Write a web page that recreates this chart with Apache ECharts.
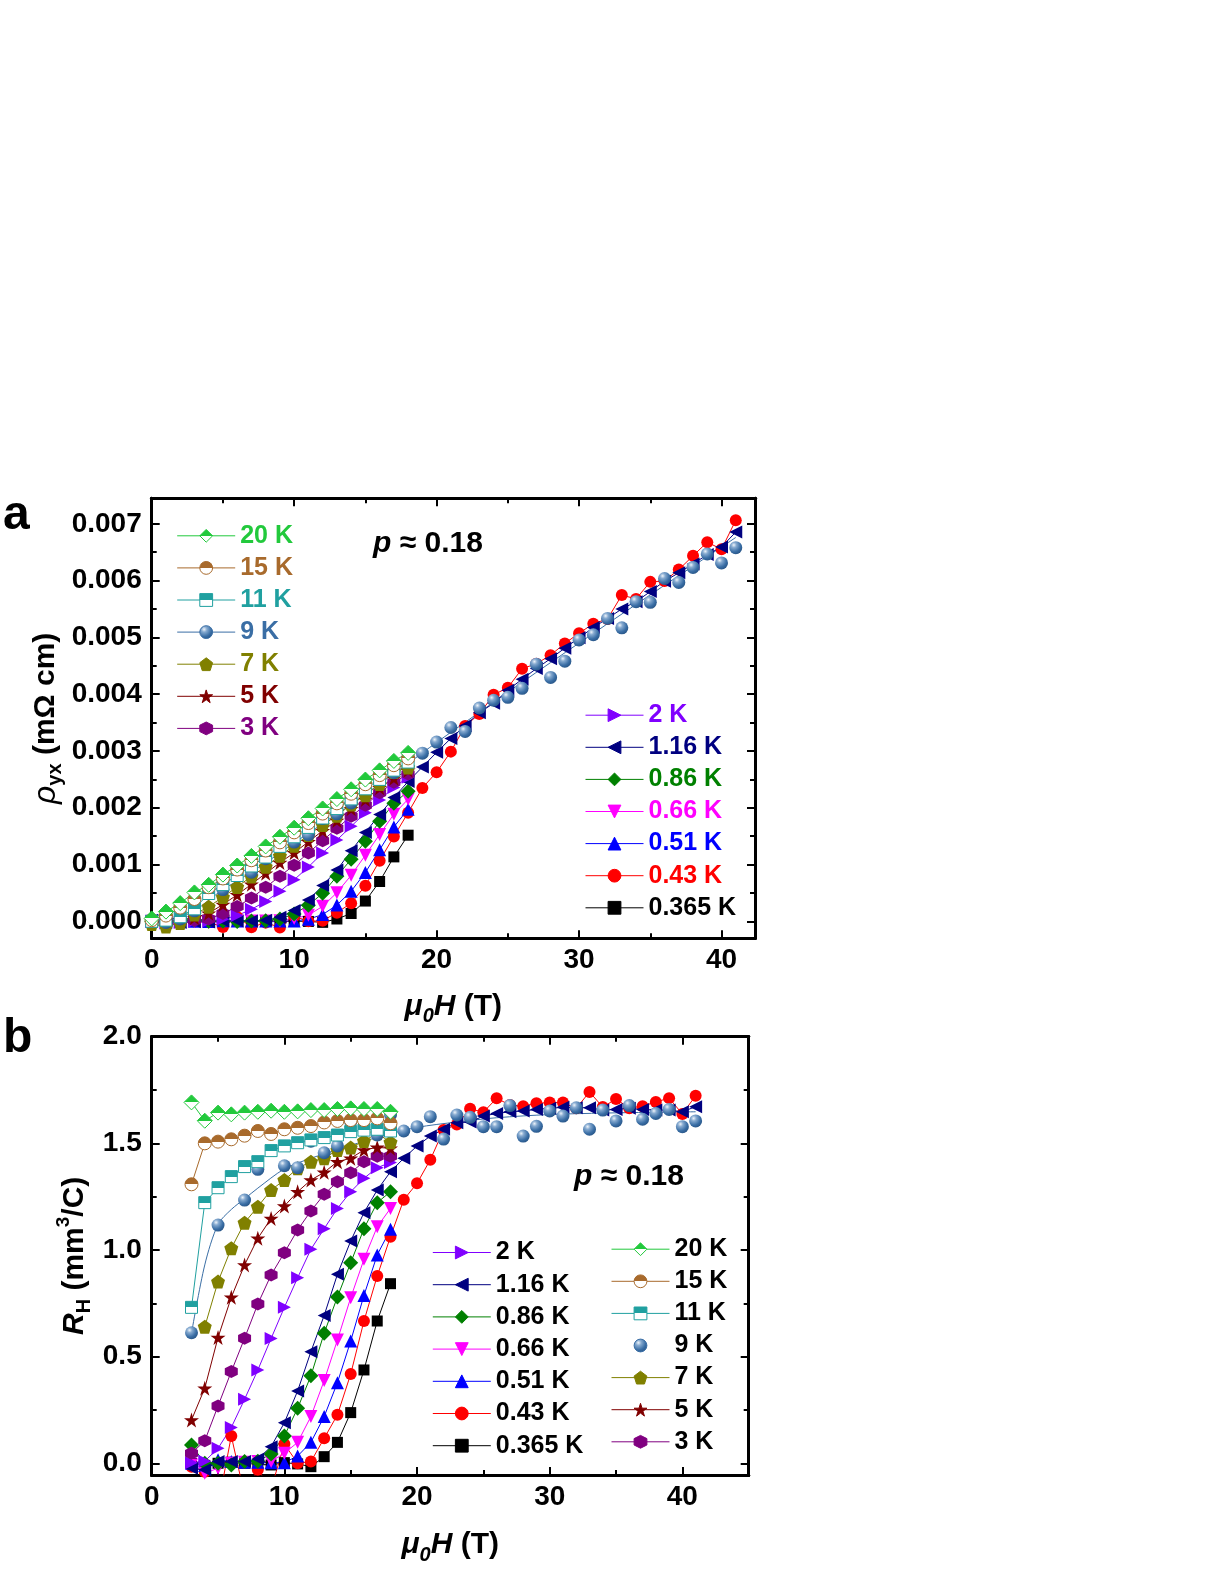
<!DOCTYPE html>
<html><head><meta charset="utf-8">
<script src="https://cdn.jsdelivr.net/npm/echarts@6/dist/echarts.min.js"></script>
<style>html,body{margin:0;padding:0;background:#fff}#c{width:1221px;height:1579px}</style>
</head><body><div id="c"></div>
<script>
// ---------- DATA ----------
const B_a = [0,1,2,3,4,5,6,7,8,9,10,11,12,13,14,15,16,17,18];
const B_a_long = [0,1,2,3,4,5,6,7,8,9,10,11,12,13,14,15,16,17,18,19,20,21,22,23,24,25,26,27,28,29,30,31,32,33,34,35,36,37,38,39,40,41];
const B_b = [3,4,5,6,7,8,9,10,11,12,13,14,15,16,17,18];
const B_b_long = [3,4,5,6,7,8,9,10,11,12,13,14,15,16,17,18,19,20,21,22,23,24,25,26,27,28,29,30,31,32,33,34,35,36,37,38,39,40,41];

// panel a: rho_yx (mOhm cm)
const rhoA_20K = [0.00005,0.00017,0.00032,0.000508,0.000642,0.000822,0.000982,0.001151,0.001318,0.001488,0.001648,0.001815,0.001987,0.002153,0.002325,0.002496,0.002658,0.002824,0.002966];
const rhoA_15K = [0.00002,0.0001,0.00024,0.000392,0.0006,0.000754,0.000911,0.001075,0.001246,0.00139,0.001566,0.00173,0.001897,0.002077,0.002247,0.002414,0.002574,0.002749,0.002869];
const rhoA_11K = [0,0.00002,0.00008,0.000219,0.000489,0.000646,0.000806,0.000974,0.001131,0.001319,0.001488,0.001653,0.001819,0.001985,0.002155,0.002333,0.002499,0.002662,0.002804];
const rhoA_9K = [0.00001,-0.00002,0.00004,0.000184,null,0.000559,null,0.000864,0.001102,null,0.001395,0.001525,0.001812,0.001893,0.002083,0.0024,null,0.002616,0.002939,0.00296,0.003156,0.003413,0.003344,0.003756,0.003893,0.003945,0.004103,0.004528,0.004295,0.004582,0.004956,0.005047,0.005334,0.005168,0.00563,0.005618,0.006037,0.005968,0.006232,0.00647,0.006312,0.006581];
const rhoA_7K = [-0.00005,-0.00009,-0.00003,0.00012,0.000256,0.000426,0.000605,0.00079,0.000962,0.001153,0.001328,0.001521,0.001697,0.001859,0.002057,0.00222,0.002418,0.00263,0.002709];
const rhoA_5K = [0,-0.00002,0.00002,0.000061,0.000141,0.000295,0.000467,0.000651,0.000844,0.001033,0.001206,0.0014,0.001594,0.001773,0.00198,0.002145,0.00235,0.002518,0.002659];
const rhoA_3K = [0,-0.00002,0,0.000014,0.000042,0.000135,0.000258,0.00041,0.000598,0.000795,0.000988,0.001203,0.00142,0.001639,0.001848,0.002044,0.002262,0.002448,0.002592];
const rhoA_2K = [0,-0.00003,-0.00002,0.000001,0.000004,0.000035,0.000101,0.00021,0.00035,0.000527,0.000731,0.000957,0.001204,0.00143,0.001673,0.00191,0.002138,0.002356,0.002538];
const rhoA_116K = [0.00002,0,-0.00002,-0.000007,-0.000012,0.000004,0.000005,0.000006,0.000016,0.00007,0.00019,0.000373,0.000628,0.000901,0.00124,0.001563,0.00188,0.002178,0.002461,0.002717,0.002975,0.003221,0.003445,0.003673,0.00384,0.00407,0.004264,0.00445,0.004626,0.004811,0.004992,0.005174,0.005334,0.005501,0.00563,0.005807,0.00599,0.006138,0.006293,0.006458,0.006592,0.006855];
const rhoA_086K = [0,-0.00002,0,0.000026,0,0,-0.000005,0.000006,0.000008,0.00004,0.000128,0.000284,0.000492,0.000793,0.001092,0.00141,0.00176,0.002077,0.002291];
const rhoA_066K = [0,-0.00005,-0.00003,-0.000002,-0.000019,-0.000012,0,0.000004,0.000006,0.000007,0.000047,0.000108,0.000263,0.000504,0.000809,0.001164,0.00153,0.001885,0.002151];
const rhoA_051K = [0,-0.00002,0,0,-0.000004,0.000008,0.000005,0.000004,0.000004,0.000003,0.000003,0.000037,0.000118,0.000285,0.000529,0.00086,0.001259,0.001661,0.001975];
const rhoA_043K = [0,-0.00002,-0.00003,-0.000005,-0.000016,-0.0001,0.000077,-0.000105,-0.000024,-0.000108,0.00009,0,0.00001,0.000152,0.000318,0.000627,0.001067,0.001493,0.001913,0.002348,0.002625,0.002988,0.003438,0.003652,0.003989,0.004115,0.004449,0.004536,0.004687,0.004894,0.005073,0.005242,0.005325,0.005745,0.005678,0.005978,0.005994,0.006194,0.006437,0.006677,0.006552,0.007064];
const rhoA_0365K = [0,0,0,0,-0.000004,0,0.000003,0,-0.000004,-0.000007,0.000003,-0.000003,-0.000019,0.00004,0.000137,0.000356,0.0007,0.001134,0.001516];
const fitA_9K_B = [0,1,2,3,4,5,6,7,8,10,12,14,16,18,20,23,26,30,35,41];
const fitA_9K = [0,0.00002,0.00007,0.00018,0.00037,0.00056,0.00071,0.00087,0.00103,0.00138,0.00172,0.00206,0.00242,0.00278,0.00315,0.00368,0.00421,0.0049,0.00575,0.00676];

// panel b: R_H (mm^3/C)
const RH_20K = [1.692,1.606,1.644,1.636,1.644,1.648,1.653,1.648,1.650,1.656,1.656,1.661,1.664,1.661,1.661,1.648];
const RH_15K = [1.308,1.500,1.508,1.519,1.536,1.558,1.544,1.566,1.573,1.581,1.598,1.605,1.609,1.609,1.617,1.594];
const RH_11K = [0.731,1.222,1.292,1.344,1.391,1.414,1.466,1.488,1.503,1.516,1.527,1.539,1.555,1.562,1.566,1.558];
const RH_9K = [0.612,null,1.117,null,1.234,1.378,null,1.395,1.386,1.51,1.456,1.488,1.600,null,1.539,1.633,1.558,1.578,1.625,1.52,1.633,1.622,1.578,1.578,1.677,1.534,1.58,1.652,1.628,1.667,1.566,1.656,1.605,1.677,1.613,1.64,1.659,1.578,1.605];
const RH_7K = [null,0.64,0.852,1.008,1.128,1.203,1.281,1.328,1.383,1.414,1.43,1.469,1.48,1.511,1.547,1.505];
const RH_5K = [0.203,0.352,0.59,0.778,0.93,1.055,1.148,1.206,1.273,1.328,1.364,1.414,1.43,1.469,1.481,1.477];
const RH_3K = [0.047,0.105,0.269,0.43,0.586,0.747,0.883,0.9875,1.094,1.183,1.261,1.32,1.3625,1.414,1.44,1.44];
const RH_2K = [0.003,0.01,0.07,0.168,0.30,0.4375,0.585,0.731,0.87,1.003,1.10,1.195,1.273,1.336,1.386,1.41];
const RH_116K = [-0.023,-0.03,0.008,0.008,0.008,0.02,0.078,0.19,0.339,0.523,0.693,0.886,1.042,1.175,1.281,1.367,1.43,1.4875,1.534,1.566,1.597,1.60,1.628,1.64,1.648,1.652,1.659,1.664,1.669,1.667,1.667,1.656,1.659,1.664,1.659,1.656,1.656,1.648,1.672];
const RH_086K = [0.086,0.0,0.0,-0.008,0.008,0.01,0.044,0.128,0.258,0.41,0.61,0.78,0.94,1.10,1.222,1.273];
const RH_066K = [-0.008,-0.047,-0.023,0.0,0.005,0.008,0.008,0.047,0.098,0.219,0.3875,0.578,0.776,0.956,1.109,1.195];
const RH_051K = [0.0,-0.01,0.016,0.008,0.005,0.005,0.003,0.003,0.034,0.098,0.219,0.378,0.573,0.787,0.977,1.097];
const RH_043K = [-0.016,-0.04,-0.2,0.128,-0.15,-0.03,-0.12,0.09,0.0,0.008,0.117,0.227,0.418,0.667,0.878,1.0625,1.236,1.3125,1.423,1.5625,1.588,1.662,1.646,1.711,1.68,1.674,1.6875,1.691,1.691,1.664,1.741,1.67,1.708,1.665,1.674,1.694,1.712,1.638,1.723];
const RH_0365K = [0.0,-0.01,0.0,0.005,0.0,-0.005,-0.008,0.003,-0.003,-0.016,0.031,0.098,0.2375,0.4375,0.667,0.842];
const fitB_9K_B = [3,4,5,6,7,8,10,12,14,16,18,20,23,26,30,35,41];
const fitB_9K = [0.61,0.93,1.12,1.19,1.24,1.29,1.38,1.43,1.47,1.51,1.545,1.575,1.60,1.62,1.635,1.643,1.648];

// tick labels
const xTicksA = [0,10,20,30,40], xMinorA = [5,15,25,35];
const yTicksA = [0,0.001,0.002,0.003,0.004,0.005,0.006,0.007];
const yMinorA = [0.0005,0.0015,0.0025,0.0035,0.0045,0.0055,0.0065];
const xTicksB = [0,10,20,30,40], xMinorB = [5,15,25,35];
const yTicksB = [0,0.5,1.0,1.5,2.0], yMinorB = [0.25,0.75,1.25,1.75];

const HIGH = ['20 K','15 K','11 K','9 K','7 K','5 K','3 K'];
const LOW = ['2 K','1.16 K','0.86 K','0.66 K','0.51 K','0.43 K','0.365 K'];

// ---------- STYLE ----------
const FONT = 'Liberation Sans, Arial, Helvetica, sans-serif';
const P_PENT = 'path://M50,0 L97.6,34.5 L79.4,90.5 L20.6,90.5 L2.4,34.5 Z';
const P_STAR = 'path://M50,0 L61.2,34.5 L97.6,34.5 L68.2,55.9 L79.4,90.5 L50,69.1 L20.6,90.5 L31.8,55.9 L2.4,34.5 L38.8,34.5 Z';
const P_HEX = 'path://M50,0 L93.3,25 L93.3,75 L50,100 L6.7,75 L6.7,25 Z';
const P_RIGHT = 'path://M0,0 L100,50 L0,100 Z';
const P_LEFT = 'path://M100,0 L0,50 L100,100 Z';
const P_DOWN = 'path://M0,0 L100,0 L50,87 Z';
const STY = {
  '20 K':   {color:'#22c93c', symbol:'diamond', size:15, fill:'half'},
  '15 K':   {color:'#a86a2c', symbol:'circle', size:13, fill:'half'},
  '11 K':   {color:'#20a0a0', symbol:'rect', size:12, fill:'half'},
  '9 K':    {color:'#3a6ea5', symbol:'circle', size:13, fill:'sphere'},
  '7 K':    {color:'#808000', symbol:P_PENT, size:14},
  '5 K':    {color:'#800000', symbol:P_STAR, size:15},
  '3 K':    {color:'#800080', symbol:P_HEX, size:13},
  '2 K':    {color:'#8000ff', symbol:P_RIGHT, size:13},
  '1.16 K': {color:'#000080', symbol:P_LEFT, size:13},
  '0.86 K': {color:'#008000', symbol:'diamond', size:15},
  '0.66 K': {color:'#ff00ff', symbol:P_DOWN, size:13},
  '0.51 K': {color:'#0000ff', symbol:'triangle', size:13},
  '0.43 K': {color:'#ff0000', symbol:'circle', size:12},
  '0.365 K':{color:'#000000', symbol:'rect', size:11}
};
function half(c){return {type:'linear',x:0,y:0,x2:0,y2:1,colorStops:[{offset:0,color:c},{offset:0.5,color:c},{offset:0.5,color:'#ffffff'},{offset:1,color:'#ffffff'}]};}
function sphere(){return {type:'radial',x:0.35,y:0.3,r:0.8,colorStops:[{offset:0,color:'#eef4fa'},{offset:0.25,color:'#86aad0'},{offset:0.65,color:'#3a6ea5'},{offset:1,color:'#234f80'}]};}
function pts(Bs, vals){const o=[];for(let i=0;i<Bs.length;i++){if(vals[i]!=null)o.push([Bs[i],vals[i]]);}return o;}

function mk(name, Bs, vals, xi, yi){
  const st = STY[name];
  let fill = st.color, bw = 0;
  if (st.fill==='half'){fill = half(st.color); bw = 1;}
  if (st.fill==='sphere'){fill = sphere();}
  return {type:'line', name, xAxisIndex:xi, yAxisIndex:yi, data:pts(Bs, vals), connectNulls:true,
    symbol:st.symbol, symbolSize:st.size, showSymbol:true, clip:true, animation:false,
    itemStyle:{color:fill, borderColor:st.color, borderWidth:bw},
    lineStyle:{color:st.color, width:(name==='9 K')?0:1},
    emphasis:{disabled:true}};
}
function fit(Bs, vals, xi, yi){
  return {type:'line', name:'9 K fit', xAxisIndex:xi, yAxisIndex:yi, data:pts(Bs, vals), smooth:0.3,
    symbol:'none', lineStyle:{color:'#3a6ea5', width:1}, clip:true, silent:true, emphasis:{disabled:true}};
}

const seriesA = [
  fit(fitA_9K_B, fitA_9K, 0, 0),
  mk('0.365 K', B_a, rhoA_0365K, 0, 0), mk('0.43 K', B_a_long, rhoA_043K, 0, 0),
  mk('0.51 K', B_a, rhoA_051K, 0, 0), mk('0.66 K', B_a, rhoA_066K, 0, 0),
  mk('0.86 K', B_a, rhoA_086K, 0, 0), mk('1.16 K', B_a_long, rhoA_116K, 0, 0),
  mk('2 K', B_a, rhoA_2K, 0, 0), mk('3 K', B_a, rhoA_3K, 0, 0), mk('5 K', B_a, rhoA_5K, 0, 0),
  mk('7 K', B_a, rhoA_7K, 0, 0), mk('9 K', B_a_long, rhoA_9K, 0, 0),
  mk('11 K', B_a, rhoA_11K, 0, 0), mk('15 K', B_a, rhoA_15K, 0, 0), mk('20 K', B_a, rhoA_20K, 0, 0)
];
const seriesB = [
  fit(fitB_9K_B, fitB_9K, 4, 4),
  mk('0.365 K', B_b, RH_0365K, 4, 4), mk('0.43 K', B_b_long, RH_043K, 4, 4),
  mk('0.51 K', B_b, RH_051K, 4, 4), mk('0.66 K', B_b, RH_066K, 4, 4),
  mk('0.86 K', B_b, RH_086K, 4, 4), mk('1.16 K', B_b_long, RH_116K, 4, 4),
  mk('2 K', B_b, RH_2K, 4, 4), mk('3 K', B_b, RH_3K, 4, 4), mk('5 K', B_b, RH_5K, 4, 4),
  mk('7 K', B_b, RH_7K, 4, 4), mk('9 K', B_b_long, RH_9K, 4, 4),
  mk('11 K', B_b, RH_11K, 4, 4), mk('15 K', B_b, RH_15K, 4, 4), mk('20 K', B_b, RH_20K, 4, 4)
];

const RICH = {
  i:{fontFamily:FONT, fontStyle:'italic', fontWeight:'bold', fontSize:30, lineHeight:40, color:'#000'},
  ir:{fontFamily:FONT, fontStyle:'italic', fontWeight:'normal', fontSize:32, lineHeight:40, color:'#000'},
  s:{fontFamily:FONT, fontStyle:'italic', fontWeight:'bold', fontSize:20, lineHeight:20, verticalAlign:'bottom', color:'#000'},
  sb:{fontFamily:FONT, fontWeight:'bold', fontSize:20, lineHeight:20, verticalAlign:'bottom', color:'#000'},
  sup:{fontFamily:FONT, fontWeight:'bold', fontSize:19, lineHeight:20, verticalAlign:'top', color:'#000'},
  n:{fontFamily:FONT, fontWeight:'bold', fontSize:30, lineHeight:40, color:'#000'}
};

function axisSet(dim, g, min, max, majors, minors, fmt, nameOpt){
  const pos = dim==='x' ? ['bottom','top'] : ['left','right'];
  const base = (position, vals, len, lab) => ({
    type:'value', gridIndex:g, min, max, position,
    axisLine:{show:true, onZero:false, lineStyle:{color:'#000', width:3}},
    axisTick:{show:true, inside:true, length:len, lineStyle:{color:'#000', width:2}, customValues:vals},
    axisLabel: lab ? {show:true, customValues:vals, formatter:fmt, color:'#000', fontFamily:FONT, fontWeight:'bold', fontSize:28, margin:(dim==='x'?8:10)} : {show:false},
    splitLine:{show:false}, minorTick:{show:false}, minorSplitLine:{show:false}
  });
  const a0 = Object.assign(base(pos[0], majors, 8, true), nameOpt||{});
  return [a0, base(pos[0], minors, 5, false), base(pos[1], majors, 8, false), base(pos[1], minors, 5, false)];
}

const xAxes = [].concat(
  axisSet('x', 0, 0, 42.35, xTicksA, xMinorA, v => String(Math.round(v)),
    {name:'{i|μ}{s|0}{i|H}{n| (T)}', nameLocation:'middle', nameGap:48, nameTextStyle:{rich:RICH}}),
  axisSet('x', 1, 0, 45, xTicksB, xMinorB, v => String(Math.round(v)),
    {name:'{i|μ}{s|0}{i|H}{n| (T)}', nameLocation:'middle', nameGap:50, nameTextStyle:{rich:RICH}})
);
const yAxes = [].concat(
  axisSet('y', 0, -0.0003, 0.00745, yTicksA, yMinorA, v => v.toFixed(3),
    {name:'{ir|ρ}{sb|yx}{n| (mΩ cm)}', nameLocation:'middle', nameGap:86, nameTextStyle:{rich:RICH}}),
  axisSet('y', 1, -0.055, 2.0, yTicksB, yMinorB, v => v.toFixed(1),
    {name:'{i|R}{sb|H}{n| (mm}{sup|3}{n|/C)}', nameLocation:'middle', nameGap:57, nameTextStyle:{rich:RICH}})
);

function legend(names, left, top, gap, colored, overrides){
  return {orient:'vertical', left, top, padding:0, itemGap:gap, itemWidth:58, itemHeight:16,
    selectedMode:false,
    textStyle:{fontFamily:FONT, fontWeight:'bold', fontSize:25, lineHeight:20, color:'#000'},
    lineStyle:{width:1},
    itemStyle:{borderWidth:1},
    data:names.map(n => {const d={name:n}; if(colored) d.textStyle={color:STY[n].color, fontFamily:FONT, fontWeight:'bold', fontSize:25, lineHeight:20}; if(overrides&&overrides[n]) Object.assign(d, overrides[n]); return d;})
  };
}

const annot = (txt, left, top, size, lh) => ({text:txt, left, top, padding:0,
  textStyle:{fontFamily:FONT, fontWeight:'bold', fontSize:size, lineHeight:lh, color:'#000',
    rich:{i:{fontFamily:FONT, fontStyle:'italic', fontWeight:'bold', fontSize:size, lineHeight:lh, color:'#000'}}}});

const option = {
  backgroundColor:'#ffffff',
  animation:false,
  grid:[
    {left:151.7, top:498.3, width:603.3, height:440, containLabel:false},
    {left:151.7, top:1036.7, width:597, height:438.3, containLabel:false}
  ],
  title:[
    annot('a', 3, 492, 48, 48),
    annot('b', 3, 1015, 48, 48),
    annot('{i|p} ≈ 0.18', 373, 529, 30, 30),
    annot('{i|p} ≈ 0.18', 574, 1162, 30, 30)
  ],
  legend:[
    legend(HIGH, 176.7, 523.3, 7.1, true, {'9 K':{lineStyle:{width:1}}}),
    legend(LOW, 585, 702.7, 7.1, true),
    legend(LOW, 432.3, 1240, 7.2, false),
    legend(HIGH, 611, 1236.7, 7.1, false, {'9 K':{lineStyle:{width:0}}})
  ],
  xAxis:xAxes,
  yAxis:yAxes,
  series:seriesA.concat(seriesB)
};
const chart = echarts.init(document.getElementById('c'), null, {renderer:'canvas'});
chart.setOption(option);
</script>
</body></html>
